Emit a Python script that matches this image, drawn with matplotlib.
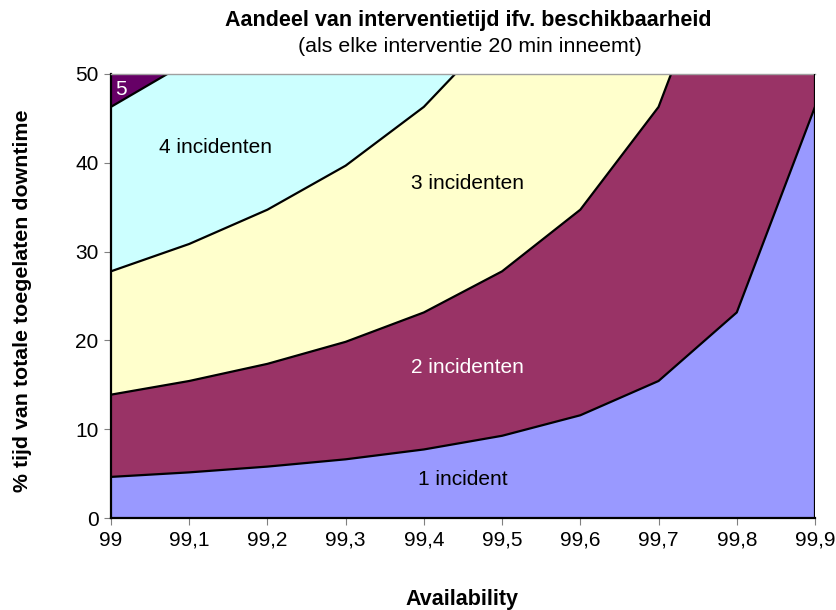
import matplotlib
matplotlib.use("Agg")
import matplotlib.pyplot as plt
import numpy as np

plt.rcParams['font.family'] = ['Liberation Sans', 'DejaVu Sans']

availability = [99.0, 99.1, 99.2, 99.3, 99.4, 99.5, 99.6, 99.7, 99.8, 99.9]
tick_labels = ["99", "99,1", "99,2", "99,3", "99,4", "99,5", "99,6", "99,7", "99,8", "99,9"]
inc1 = [4.63, 5.14, 5.79, 6.61, 7.72, 9.26, 11.57, 15.43, 23.15, 46.30]
inc2 = [9.26, 10.29, 11.57, 13.23, 15.43, 18.52, 23.15, 30.86, 46.30, 92.59]
inc3 = [13.89, 15.43, 17.36, 19.84, 23.15, 27.78, 34.72, 46.30, 69.44, 138.89]
inc4 = [18.52, 20.58, 23.15, 26.46, 30.86, 37.04, 46.30, 61.73, 92.59, 185.19]
inc5 = [23.15, 25.72, 28.94, 33.07, 38.58, 46.30, 57.87, 77.16, 115.74, 231.48]
series_names = ["1 incident", "2 incidenten", "3 incidenten", "4 incidenten", "5"]
colors = ["#9999FF", "#993366", "#FFFFCC", "#CCFFFF", "#660066"]

fig = plt.figure(figsize=(8.37, 6.10), dpi=100)
ax = fig.add_axes([0.1326, 0.1508, 0.8411, 0.7279])

x = np.array(availability)
layers = [inc1, inc2, inc3, inc4, inc5]
base = np.zeros(len(x))
for vals, c in zip(layers, colors):
    top = base + np.array(vals)
    ax.fill_between(x, base, top, facecolor=c, edgecolor='none', zorder=1)
    ax.plot(x, top, color='black', lw=1.6, zorder=2)
    base = top

ax.set_xlim(99.0, 99.9)
ax.set_ylim(0, 50)
ax.set_xticks(availability)
ax.set_xticklabels(tick_labels)
ax.set_yticks([0, 10, 20, 30, 40, 50])
ax.tick_params(axis='both', direction='out', color='#808080', length=5, labelsize=15, pad=4)

ax.spines['top'].set_color('#A0A0A0')
ax.spines['top'].set_linewidth(1)
ax.spines['right'].set_visible(False)
ax.spines['left'].set_color('black')
ax.spines['left'].set_linewidth(1.6)
ax.spines['bottom'].set_color('black')
ax.spines['bottom'].set_linewidth(1.6)
ax.axvline(99.9, color='black', lw=1.6, zorder=3)

fs = 15
ax.text(99.45, 4.3, series_names[0], ha='center', va='center', fontsize=fs, color='black', zorder=4)
ax.text(99.456, 16.9, series_names[1], ha='center', va='center', fontsize=fs, color='white', zorder=4)
ax.text(99.456, 37.7, series_names[2], ha='center', va='center', fontsize=fs, color='black', zorder=4)
ax.text(99.133, 41.7, series_names[3], ha='center', va='center', fontsize=fs, color='black', zorder=4)
ax.text(99.013, 48.3, series_names[4], ha='center', va='center', fontsize=fs, color='white', zorder=4)

fig.text(0.5597, 0.9656, "Aandeel van interventietijd ifv. beschikbaarheid", ha='center', va='center',
         fontsize=15.5, fontweight='bold')
fig.text(0.5615, 0.9230, "(als elke interventie 20 min inneemt)", ha='center', va='center', fontsize=15.4)
fig.text(0.552, 0.0164, "Availability", ha='center', va='center', fontsize=15.5, fontweight='bold')
fig.text(0.0263, 0.5066, "% tijd van totale toegelaten downtime", ha='center', va='center',
         fontsize=15.4, fontweight='bold', rotation=90)

fig.savefig("out.png", dpi=100)
